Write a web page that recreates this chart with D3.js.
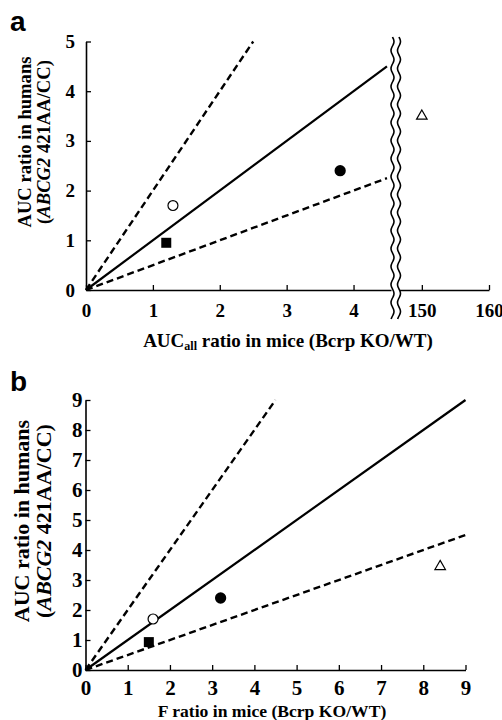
<!DOCTYPE html>
<html>
<head>
<meta charset="utf-8">
<script src="https://cdn.jsdelivr.net/npm/d3@7"></script>
<style>
  body { margin: 0; background: #fff; }
  svg { display: block; }
  .ser { font-family: "Liberation Serif", "Times New Roman", serif; font-weight: bold; fill: #000; }
  .panel-label { font-family: "Liberation Sans", Arial, sans-serif; font-weight: bold; fill: #000; }
</style>
</head>
<body>
<svg id="chart" width="502" height="720"></svg>
<script>
// ---- data ----
const markerType = ["openCircle", "filledSquare", "filledCircle", "openTriangle"];
const aucRatioMice = [1.3, 1.2, 3.8, 150];        // panel a, x
const aucRatioHumansA = [1.7, 0.95, 2.4, 3.5];    // panel a, y
const fRatioMice = [1.6, 1.5, 3.2, 8.4];          // panel b, x
const aucRatioHumansB = [1.7, 0.93, 2.4, 3.45];   // panel b, y
const refSlopes = [2, 1, 0.5];                    // 2-fold, line of unity, 0.5-fold
const xTicksALow = [0, 1, 2, 3, 4];
const xTicksAHigh = [150, 160];
const yTicksA = [0, 1, 2, 3, 4, 5];
const ticksB = [0, 1, 2, 3, 4, 5, 6, 7, 8, 9];

const svg = d3.select("#chart");

function drawMarkers(g, xs, ys, xScale, yScale) {
  const pts = markerType.map((m, i) => ({ m, x: xs[i], y: ys[i] }));
  g.selectAll("path.mk")
    .data(pts)
    .enter()
    .append("path")
    .attr("class", "mk")
    .attr("transform", d => `translate(${xScale(d)},${yScale(d.y)})`)
    .attr("d", d => {
      if (d.m === "filledSquare") return d3.symbol(d3.symbolSquare, 100)();
      if (d.m === "openTriangle") return d3.symbol(d3.symbolTriangle, 48)();
      return d3.symbol(d3.symbolCircle, d.m === "filledCircle" ? 100 : 78)();
    })
    .attr("fill", d => d.m.startsWith("filled") ? "#000" : "#fff")
    .attr("stroke", "#000")
    .attr("stroke-width", d => d.m.startsWith("filled") ? 0 : 1.2);
}

function drawRefLines(g, x, y, xMax, yMax) {
  g.selectAll("line.ref")
    .data(refSlopes)
    .enter()
    .append("line")
    .attr("class", "ref")
    .attr("x1", x(0)).attr("y1", y(0))
    .attr("x2", s => x(Math.min(xMax, yMax / s)))
    .attr("y2", s => y(Math.min(xMax, yMax / s) * s))
    .attr("stroke", "#000")
    .attr("stroke-width", s => s === 1 ? 2.2 : 2.4)
    .attr("stroke-dasharray", s => s === 1 ? null : "7,4");
}

function styleAxis(sel, fs) {
  sel.select(".domain").attr("stroke", "#000").attr("stroke-width", 1.6);
  sel.selectAll(".tick line").attr("stroke", "#000").attr("stroke-width", 1.3);
  sel.selectAll("text").attr("class", "ser").attr("font-size", fs).attr("font-family", null);
}

function yTitle(g, bx, cy, fs) {
  const t = g.append("text").attr("class", "ser")
    .attr("font-size", fs)
    .attr("text-anchor", "middle")
    .attr("transform", `translate(${bx},${cy}) rotate(-90)`);
  t.append("tspan").attr("x", 0).attr("dy", 0).text("AUC ratio in humans");
  const t2 = t.append("tspan").attr("x", 0).attr("dy", "1em");
  t2.append("tspan").text("(");
  t2.append("tspan").attr("font-style", "italic").text("ABCG2");
  t2.append("tspan").text(" 421AA/CC)");
}

// ================= panel a =================
const ga = svg.append("g");
const xaLow = d3.scaleLinear().domain([0, 4.56]).range([86, 391]);
const xaHigh = d3.scaleLinear().domain([146.6, 160]).range([399, 489]);
const ya = d3.scaleLinear().domain([0, 5]).range([290, 41.5]);
const fsA = 19;

drawRefLines(ga, xaLow, ya, 4.5, 5);

ga.append("g").attr("transform", `translate(0,${ya(0)})`)
  .call(d3.axisBottom(xaLow).tickValues(xTicksALow).tickFormat(d3.format("d"))
    .tickSizeInner(-5).tickSizeOuter(0).tickPadding(14))
  .call(s => styleAxis(s, fsA));
ga.append("g").attr("transform", `translate(0,${ya(0)})`)
  .call(d3.axisBottom(xaHigh).tickValues(xTicksAHigh).tickFormat(d3.format("d"))
    .tickSizeInner(-5).tickSizeOuter(0).tickPadding(14))
  .call(s => styleAxis(s, fsA));
ga.append("g").attr("transform", `translate(${xaLow(0)},0)`)
  .call(d3.axisLeft(ya).tickValues(yTicksA).tickFormat(d3.format("d"))
    .tickSizeInner(-5).tickSizeOuter(0).tickPadding(11))
  .call(s => styleAxis(s, fsA));

// axis break: two wavy lines
const breakXs = [392.5, 399];
const waveY = d3.range(37, 321, 2);
ga.append("rect").attr("x", breakXs[0]).attr("y", 37)
  .attr("width", breakXs[1] - breakXs[0]).attr("height", 284).attr("fill", "#fff");
const wave = d3.line().curve(d3.curveBasis);
breakXs.forEach(bx => {
  ga.append("path")
    .attr("d", wave(waveY.map(yy => [bx + 1.6 * Math.sin((yy - 37) / 18 * 2 * Math.PI), yy])))
    .attr("fill", "none").attr("stroke", "#000").attr("stroke-width", 1.6);
});

drawMarkers(ga, aucRatioMice, aucRatioHumansA,
  d => d.x <= 4.56 ? xaLow(d.x) : xaHigh(d.x), ya);

yTitle(ga, 31, 142, 18.6);

const xtA = ga.append("text").attr("class", "ser").attr("font-size", 19)
  .attr("text-anchor", "middle").attr("x", 288).attr("y", 347);
xtA.append("tspan").text("AUC");
xtA.append("tspan").attr("font-size", 12).attr("dy", 3).text("all");
xtA.append("tspan").attr("dy", -3).text(" ratio in mice (Bcrp KO/WT)");

ga.append("text").attr("class", "panel-label").attr("font-size", 28)
  .attr("x", 10).attr("y", 31).text("a");

// ================= panel b =================
const gb = svg.append("g");
const xb = d3.scaleLinear().domain([0, 9]).range([85.5, 465.5]);
const yb = d3.scaleLinear().domain([0, 9]).range([670, 400]);
const fsB = 21;

drawRefLines(gb, xb, yb, 9, 9);

gb.append("g").attr("transform", `translate(0,${yb(0)})`)
  .call(d3.axisBottom(xb).tickValues(ticksB).tickFormat(d3.format("d"))
    .tickSizeInner(-5).tickSizeOuter(0).tickPadding(10))
  .call(s => styleAxis(s, fsB));
gb.append("g").attr("transform", `translate(${xb(0)},0)`)
  .call(d3.axisLeft(yb).tickValues(ticksB).tickFormat(d3.format("d"))
    .tickSizeInner(-5).tickSizeOuter(0).tickPadding(3))
  .call(s => styleAxis(s, fsB));

drawMarkers(gb, fRatioMice, aucRatioHumansB, d => xb(d.x), yb);

yTitle(gb, 29, 521, 22);

gb.append("text").attr("class", "ser").attr("font-size", 17.6)
  .attr("text-anchor", "middle").attr("x", 272).attr("y", 717)
  .text("F ratio in mice (Bcrp KO/WT)");

gb.append("text").attr("class", "panel-label").attr("font-size", 28)
  .attr("x", 10).attr("y", 391).text("b");
</script>
</body>
</html>
